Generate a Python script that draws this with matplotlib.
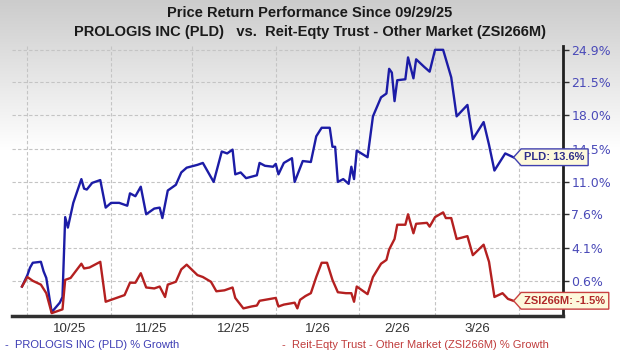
import numpy as np
import matplotlib
matplotlib.use("Agg")
import matplotlib.pyplot as plt
import matplotlib.dates as mdates
from matplotlib.path import Path

# ---------------------------------------------------------------
# Data (percent growth since 09/29/25)
# ---------------------------------------------------------------
START = np.datetime64("2025-09-29")

pld_day = [0, 2, 3, 4, 7, 8, 9, 11, 14, 15, 16, 17, 19, 22, 23, 24, 26, 29, 31,
           33, 36, 39, 40, 42, 44, 46, 49, 51, 52, 54, 57, 59, 61, 65, 67, 68,
           71, 74, 76, 78, 79, 81, 83, 87, 88, 90, 93, 94, 95, 97, 100, 101,
           104, 107, 109, 111, 114, 115, 116, 117, 119, 121, 122, 123, 124,
           128, 130, 133, 135, 136, 137, 138, 139, 142, 143, 145, 146, 149,
           151, 153, 156, 159, 161, 165, 167, 171, 173, 175, 179, 182]
pld_val = [0.0, 1.2, 2.0, 2.5, 2.6, 1.6, 0.9, -2.7, -1.7, -1.1, 7.3, 6.2, 8.8,
           11.3, 10.3, 10.2, 10.9, 11.2, 8.3, 8.8, 8.8, 8.5, 9.8, 9.5, 10.5,
           7.6, 8.2, 8.3, 7.2, 10.1, 10.7, 12.0, 12.5, 12.8, 13.0, 12.5, 11.0,
           14.2, 14.0, 14.4, 11.8, 12.0, 11.4, 11.7, 13.0, 12.7, 12.6, 12.9,
           11.8, 13.0, 13.5, 11.0, 13.2, 13.1, 15.8, 16.7, 16.7, 14.7, 14.7,
           11.0, 11.3, 10.8, 12.6, 11.3, 14.3, 13.6, 17.9, 19.9, 20.3, 22.9,
           22.5, 19.5, 21.7, 21.8, 24.1, 21.9, 23.9, 23.1, 22.6, 24.9, 24.9,
           22.0, 17.9, 19.1, 15.5, 17.3, 14.9, 12.2, 14.0, 13.6]

zsi_day = [0, 2, 4, 7, 9, 11, 15, 16, 18, 22, 23, 25, 29, 31, 36, 38, 40, 42,
           44, 46, 49, 51, 53, 54, 57, 59, 61, 65, 67, 70, 72, 75, 78, 79, 82,
           85, 87, 88, 92, 94, 95, 97, 101, 102, 103, 105, 107, 109, 111, 113,
           115, 117, 120, 122, 123, 124, 126, 128, 130, 133, 135, 136, 138,
           139, 142, 143, 145, 146, 150, 151, 153, 156, 157, 159, 161, 165,
           167, 171, 173, 175, 178, 180, 182]
zsi_val = [0.0, 1.0, 0.6, 0.2, -0.7, -2.8, -2.4, 0.7, 0.9, 2.4, 1.9, 2.0, 2.6,
           -1.6, -1.1, -0.9, 0.4, 0.4, 1.4, -0.1, -0.2, 0.0, -1.1, 0.2, 0.5,
           1.8, 2.3, 1.2, 1.0, 0.5, -0.5, -0.4, -0.1, -1.2, -2.3, -2.1, -2.0,
           -1.5, -1.3, -1.2, -2.1, -1.9, -1.7, -2.3, -1.4, -1.0, -0.7, 1.0,
           2.5, 2.5, 0.7, -0.6, -0.7, -0.7, -1.6, 0.0, -0.4, -0.8, 1.0, 2.4,
           2.8, 3.9, 5.0, 6.5, 6.5, 7.6, 5.6, 6.6, 6.7, 6.3, 7.3, 7.8, 7.2,
           7.2, 5.0, 5.3, 3.3, 4.4, 2.6, -1.1, -0.7, -1.3, -1.5]

ytick_vals = [24.9, 21.5, 18.0, 14.5, 11.0, 7.6, 4.1, 0.6]
month_starts = ["2025-10-01", "2025-11-01", "2025-12-01", "2026-01-01",
                "2026-02-01", "2026-03-01", "2026-04-01"]
month_labels = ["10/25", "11/25", "12/25", "1/26", "2/26", "3/26"]

title1 = "Price Return Performance Since 09/29/25"
title2 = "PROLOGIS INC (PLD)   vs.  Reit-Eqty Trust - Other Market (ZSI266M)"
pld_legend = "PROLOGIS INC (PLD) % Growth"
zsi_legend = "Reit-Eqty Trust - Other Market (ZSI266M) % Growth"

BLUE = "#1c1ca6"
RED = "#b42020"

plt.rcParams["font.family"] = ["Liberation Sans", "DejaVu Sans"]


def tag_box(x0, y0, width, height, mutation_size):
    # rectangle with a pointed left side
    pad = 0.3 * mutation_size
    x0, y0 = x0 - pad, y0 - pad
    w, h = width + 2 * pad, height + 2 * pad
    tip = h * 0.45
    verts = [(x0 - tip, y0 + h / 2), (x0, y0), (x0 + w, y0), (x0 + w, y0 + h),
             (x0, y0 + h), (x0 - tip, y0 + h / 2)]
    return Path(verts, closed=True)


#############################################################
# Figure
#############################################################
fig = plt.figure(figsize=(6.2, 3.56), dpi=100)

# grey-to-white background at the top
bg = fig.add_axes([0, 0, 1, 1], zorder=-10)
grad = np.clip(0.80 + 0.20 * np.linspace(0, 356, 356)[:, None] / 150, 0, 1)
bg.imshow(np.repeat(grad, 3, axis=1)[:, :, None] * np.ones((1, 1, 3)),
          aspect="auto", extent=[0, 1, 0, 1], interpolation="bilinear")
bg.axis("off")

ax = fig.add_axes([12 / 620, 1 - 316 / 356, (563 - 12) / 620, (316 - 46) / 356])
ax.patch.set_alpha(0)

pld_dates = START + np.array(pld_day).astype("timedelta64[D]")
zsi_dates = START + np.array(zsi_day).astype("timedelta64[D]")

ax.plot(pld_dates, pld_val, color=BLUE, lw=1.7, zorder=3)
ax.plot(zsi_dates, zsi_val, color=RED, lw=1.7, zorder=4)

x0 = mdates.date2num(START)
ax.set_xlim(x0 - 3.7, x0 + 200.4)
ax.set_ylim(-3.1, 25.3)

# axes styling
for s in ["left", "top"]:
    ax.spines[s].set_visible(False)
ax.spines["bottom"].set_linewidth(2.5)
ax.spines["bottom"].set_color("#303030")
ax.spines["right"].set_linewidth(2)
ax.spines["right"].set_color("#202020")

ax.yaxis.tick_right()
ax.set_yticks(ytick_vals)
ax.set_yticklabels(["%.1f%%" % v for v in ytick_vals], family="DejaVu Sans")
ax.tick_params(axis="y", direction="out", length=4, width=1, color="#303030",
               labelcolor="#4a4ab8", labelsize=9, pad=2)

ms = mdates.date2num(np.array(month_starts, dtype="datetime64[D]"))
ax.set_xticks(ms)
ax.set_xticklabels([])
ax.set_xticks((ms[:-1] + ms[1:]) / 2, minor=True)
ax.set_xticklabels(month_labels, minor=True)
ax.tick_params(axis="x", which="both", length=0, pad=5, labelsize=9.5,
               labelcolor="#333333")

ax.grid(True, which="major", ls=(0, (3, 2)), color="#c4c4c4", lw=0.8)

# end-value tags
ax.annotate("PLD: %.1f%%" % pld_val[-1], xy=(pld_dates[-1], pld_val[-1]),
            xytext=(8, 0), textcoords="offset points", ha="left", va="center",
            fontsize=8, fontweight="bold", color="#2e2e8a", zorder=10,
            annotation_clip=False,
            bbox=dict(boxstyle=tag_box, fc="#fdf9dc", ec="#4040b0", lw=1))
ax.annotate("ZSI266M: %.1f%%" % zsi_val[-1], xy=(zsi_dates[-1], zsi_val[-1]),
            xytext=(8, 0), textcoords="offset points", ha="left", va="center",
            fontsize=8, fontweight="bold", color="#b02a2a", zorder=10,
            annotation_clip=False,
            bbox=dict(boxstyle=tag_box, fc="#fdf9dc", ec="#c84040", lw=1))

# titles
fig.text(0.5, 1 - 13 / 356, title1, ha="center", va="center", fontsize=10.5,
         fontweight="bold", color="#1a1a1a")
fig.text(0.5, 1 - 32 / 356, title2, ha="center", va="center", fontsize=10.5,
         fontweight="bold", color="#1a1a1a")

# legend line
fig.text(5 / 620, 1 - 345 / 356, "-  " + pld_legend, ha="left", va="center",
         fontsize=8, color="#3c3cb4")
fig.text(282 / 620, 1 - 345 / 356, "-  " + zsi_legend, ha="left", va="center",
         fontsize=8, color="#c03c3c")

fig.savefig("out.png", dpi=100)
